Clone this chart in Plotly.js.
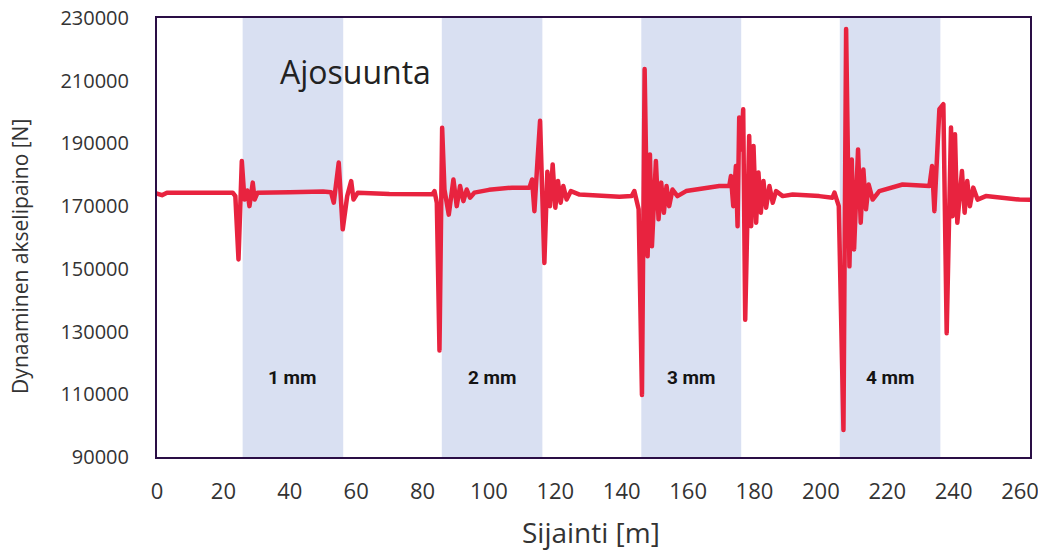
<!DOCTYPE html>
<html>
<head>
<meta charset="utf-8">
<script src="https://cdn.plot.ly/plotly-3.0.1.min.js"></script>
<style>html,body{margin:0;padding:0;background:#fff;}#chart{width:1038px;height:551px;}
#chart .js-line{stroke-linejoin:round !important;stroke-linecap:round !important;}</style>
</head>
<body>
<div id="chart"></div>
<script>
// Position along the track [m]
const positionM = [
  0, 1.5, 3, 8, 15, 22.8, 23.6, 24.55, 25.55, 26.35, 27.2, 27.85, 28.85, 29.4, 30.3, 40, 50,
  52.45, 53.25, 54.75, 55.95, 57.3, 58.5, 59.2, 60.5, 70, 80,
  83.0, 83.6, 84.3, 85.1, 85.9, 86.6, 87.9, 89.3, 90.3, 91.3, 92.3, 93.3, 94.3, 95.6, 100, 107, 112.2,
  113.0, 113.7, 114.6, 115.4, 116.7, 117.6, 118.4, 119.2, 120.0, 120.8, 121.6, 122.4, 123.4, 124.7, 127.3, 139.3,
  143.0, 143.8, 145.1, 146.1, 146.9, 147.8, 148.5, 149.1, 150.3, 151.1, 151.9, 152.7, 153.5, 154.3, 155.3, 156.8, 159.4, 165, 169.4, 172.4,
  172.9, 173.6, 174.4, 174.9, 175.4, 176.0, 176.6, 177.2, 178.4, 179.0, 179.7, 180.5, 181.2, 181.9, 182.7, 183.5, 184.5, 185.5, 186.5, 188.5, 191.5, 199.5,
  203.5, 204.1, 205.4, 206.8, 207.6, 208.6, 209.3, 210.0, 211.2, 212.0, 212.8, 213.6, 214.4, 215.6, 217.6, 224.6, 232.7,
  233.5, 234.2, 234.9, 235.7, 236.9, 237.9, 239.2, 239.7, 240.4, 241.1, 242.5, 243.3, 244.1, 244.9, 245.9, 247.2, 249.7, 255, 259.8, 263
];
// Dynamic axle load [N]
const axleLoadN = [
  174000, 173500, 174300, 174200, 174300, 174300, 173200, 153000, 184400, 172100, 175000, 170000, 177500, 172100, 174300, 174400, 174700,
  174400, 171100, 183900, 162600, 173200, 178000, 172100, 174300, 173900, 173700,
  173800, 174800, 171100, 124000, 195000, 175300, 167300, 178500, 170000, 176400, 171600, 175300, 172700, 174300, 175200, 175900, 175900,
  178500, 168400, 184000, 197200, 151900, 181000, 170000, 183300, 169500, 178000, 171100, 176400, 172100, 174800, 173700, 173000,
  173200, 174800, 169000, 109800, 213700, 154000, 186500, 157200, 184400, 165800, 177500, 167900, 176400, 170000, 175300, 173200, 174800, 175800, 176400, 176400,
  179600, 170000, 182800, 163600, 198300, 188100, 200900, 133800, 192400, 163600, 189200, 164700, 180700, 167900, 178000, 169500, 176400, 171100, 174800, 173200, 173700, 173200,
  172700, 174300, 170000, 98600, 226500, 150800, 184900, 156200, 188100, 164700, 181700, 169000, 176900, 172100, 174800, 176900, 176400,
  182800, 168400, 183900, 200900, 202500, 129500, 195100, 166800, 192900, 164700, 181200, 167900, 178000, 170000, 175900, 172100, 173200, 172500, 172100, 172000
];
// Test zones (rail defect depth)
const zoneStart = [25.8, 85.8, 145.9, 205.7];
const zoneEnd = [56.1, 116.1, 176.0, 236.0];
const zoneLabels = ["1 mm", "2 mm", "3 mm", "4 mm"];
const xTickVals = [0, 20, 40, 60, 80, 100, 120, 140, 160, 180, 200, 220, 240, 260];
const yTickVals = [90000, 110000, 130000, 150000, 170000, 190000, 210000, 230000];

const shapes = zoneStart.map((s, i) => ({
  type: 'rect', xref: 'x', yref: 'paper', x0: s, x1: zoneEnd[i], y0: 0, y1: 1,
  fillcolor: '#d9e0f2', line: {width: 0}, layer: 'below'
}));

const annotations = zoneLabels.map((t, i) => ({
  text: t, xref: 'x', yref: 'paper', x: (zoneStart[i] + zoneEnd[i]) / 2, y: 0.18,
  showarrow: false, xanchor: 'center', yanchor: 'middle',
  font: {family: 'Roboto, sans-serif', size: 19, color: '#141414', weight: 'bold'}
}));
annotations.push({
  text: 'Ajosuunta', xref: 'paper', yref: 'paper', x: 0.227, y: 0.879,
  showarrow: false, xanchor: 'center', yanchor: 'middle',
  font: {family: 'Open Sans, sans-serif', size: 32, color: '#222222'}
});
annotations.push({
  text: 'Dynaaminen akselipaino [N]', xref: 'paper', yref: 'paper', x: -0.157, y: 0.458,
  showarrow: false, xanchor: 'center', yanchor: 'middle', textangle: -90,
  font: {family: 'Open Sans, sans-serif', size: 21, color: '#333333'}
});
annotations.push({
  text: 'Sijainti [m]', xref: 'paper', yref: 'paper', x: 0.497, y: -0.171,
  showarrow: false, xanchor: 'center', yanchor: 'middle',
  font: {family: 'Open Sans, sans-serif', size: 28, color: '#333333'}
});

const trace = {
  x: positionM, y: axleLoadN, type: 'scatter', mode: 'lines',
  line: {color: '#e8233f', width: 4.5, shape: 'linear'}, hoverinfo: 'x+y'
};

const layout = {
  width: 1038, height: 551,
  margin: {l: 157, r: 8, t: 18, b: 94},
  paper_bgcolor: '#ffffff', plot_bgcolor: '#ffffff',
  showlegend: false,
  xaxis: {
    range: [0, 263], tickvals: xTickVals, ticktext: xTickVals.map(String),
    showgrid: false, zeroline: false, showline: true, mirror: true,
    linecolor: '#2a0e45', linewidth: 2, ticks: '', ticklabelstandoff: 14,
    ticklabeloverflow: 'allow',
    tickfont: {family: 'Open Sans, sans-serif', size: 22, color: '#333333'}
  },
  yaxis: {
    range: [90000, 230000], tickvals: yTickVals, ticktext: yTickVals.map(String),
    showgrid: false, zeroline: false, showline: true, mirror: true,
    linecolor: '#2a0e45', linewidth: 2, ticks: '', ticklabelstandoff: 22,
    tickfont: {family: 'Open Sans, sans-serif', size: 20, color: '#333333'}
  },
  shapes: shapes,
  annotations: annotations
};

Plotly.newPlot('chart', [trace], layout, {displayModeBar: false, staticPlot: true});
</script>
</body>
</html>
